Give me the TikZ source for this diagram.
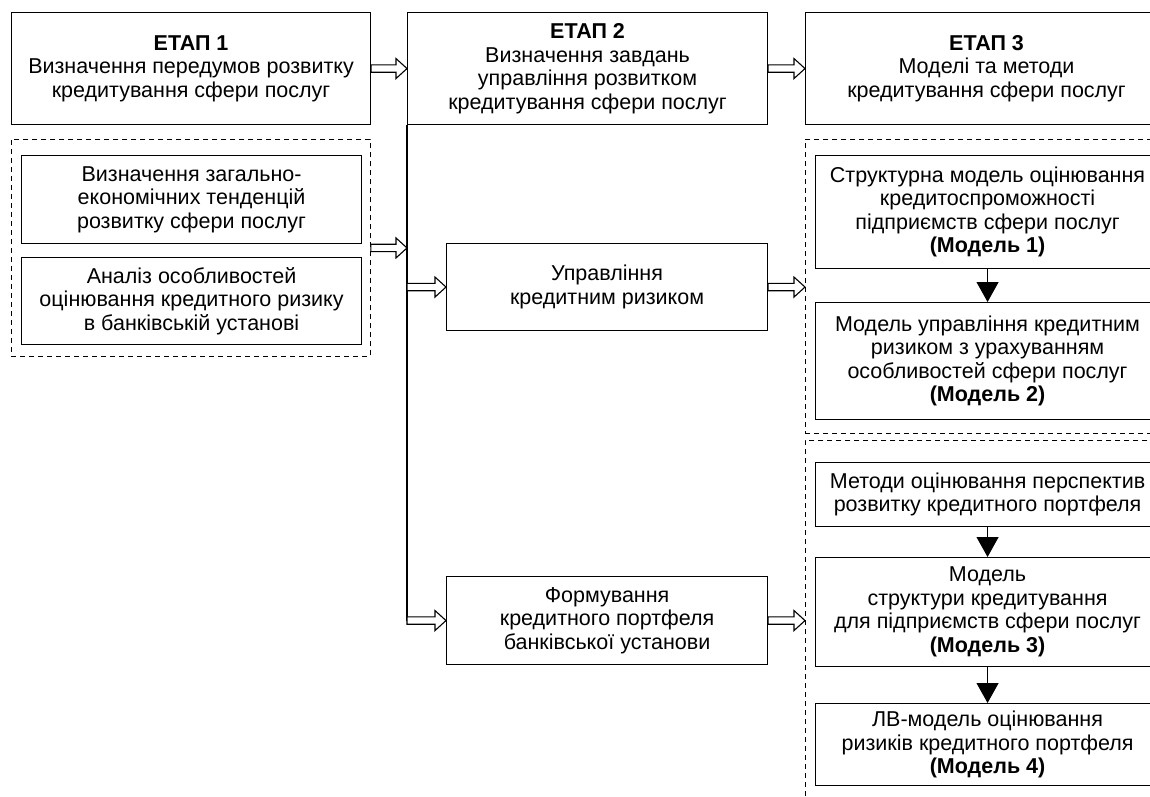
\documentclass[tikz,border=0pt]{standalone}
\usepackage{fontspec}
\setmainfont{Liberation Sans}
\usetikzlibrary{positioning,arrows.meta,calc}
\begin{document}
\begin{tikzpicture}[x=1pt,y=-1pt,line width=1.1pt,
		blok/.style={draw,anchor=north west,align=center,inner sep=2pt,font=\fontsize{21.5}{23.5}\selectfont},
		grupa/.style={draw,dash pattern=on 5pt off 4pt,line width=0.9pt,anchor=north west,inner sep=0pt},
		dvi/.style={draw,fill=white,line width=1.1pt,to path={
				($(\tikztostart)+(0,-3.7)$) -- ($(\tikztotarget)+(-11,-3.7)$) -- ($(\tikztotarget)+(-11,-10)$) -- (\tikztotarget)
				-- ($(\tikztotarget)+(-11,10)$) -- ($(\tikztotarget)+(-11,3.7)$) -- ($(\tikztostart)+(0,3.7)$) -- cycle}},
		strilka/.style={-{Triangle[length=20pt,width=22pt]},line width=1pt}]
		\useasboundingbox (0,0) rectangle (1150,796);
		\def\hb{112}
		\def\xl{407}
		\def\xm{446}
		\def\xr{815}
		\def\wr{344}
		% stages
		\node[blok,minimum width=359,minimum height=\hb] (etap1) at (11,12) {\textbf{ЕТАП 1}\\Визначення передумов розвитку\\кредитування сфери послуг};
		\node[blok,minimum width=360,minimum height=\hb] (etap2) at (\xl,12) {\textbf{ЕТАП 2}\\Визначення завдань\\управління розвитком\\кредитування сфери послуг};
		\node[blok,minimum width=362,minimum height=\hb] (etap3) at (805,12) {\textbf{ЕТАП 3}\\Моделі та методи\\кредитування сфери послуг};
		% left group
		\node[grupa,minimum width=359,minimum height=217] (grl) at (11,139) {};
		\node[blok,minimum width=340,minimum height=88] (tend) at (21,155) {Визначення загально-\\економічних тенденцій\\розвитку сфери послуг};
		\node[blok,minimum width=340,minimum height=87] (analiz) at (21,257) {Аналіз особливостей\\оцінювання кредитного ризику\\в банківській установі};
		% middle
		\node[blok,minimum width=321,minimum height=87] (upr) at (\xm,243) {Управління\\кредитним ризиком};
		\node[blok,minimum width=321,minimum height=88] (form) at (\xm,576) {Формування\\кредитного портфеля\\банківської установи};
		% right groups
		\node[grupa,minimum width=364,minimum height=294] (grr1) at (805,139) {};
		\node[grupa,minimum width=364,minimum height=370] (grr2) at (805,440) {};
		\node[blok,minimum width=\wr,minimum height=113] (m1) at (\xr,155) {Структурна модель оцінювання\\кредитоспроможності\\підприємств сфери послуг\\\textbf{(Модель 1)}};
		\node[blok,minimum width=\wr,minimum height=117] (m2) at (\xr,302) {Модель управління кредитним\\ризиком з урахуванням\\особливостей сфери послуг\\\textbf{(Модель 2)}};
		\node[blok,minimum width=\wr,minimum height=64] (metody) at (\xr,462) {Методи оцінювання перспектив\\розвитку кредитного портфеля};
		\node[blok,minimum width=\wr,minimum height=109] (m3) at (\xr,557) {Модель\\структури кредитування\\для підприємств сфери послуг\\\textbf{(Модель 3)}};
		\node[blok,minimum width=\wr,minimum height=82] (m4) at (\xr,703) {ЛВ-модель оцінювання\\ризиків кредитного портфеля\\\textbf{(Модель 4)}};
		% connectors
		\coordinate (v1) at (grl.east -| etap2.west);
		\coordinate (v2) at (upr.west -| etap2.west);
		\coordinate (v3) at (form.west -| etap2.west);
		\draw (etap2.south west) -- (v3);
		\draw[dvi] (etap1.east) to (etap2.west);
		\draw[dvi] (etap2.east) to (etap3.west);
		\draw[dvi] (grl.east) to (v1);
		\draw[dvi] (v2) to (upr.west);
		\draw[dvi] (v3) to (form.west);
		\draw[dvi] (upr.east) to (grr1.west |- upr.east);
		\draw[dvi] (form.east) to (grr2.west |- form.east);
		\draw[strilka] (m1) -- (m2);
		\draw[strilka] (metody) -- (m3);
		\draw[strilka] (m3) -- (m4);
	\end{tikzpicture}
\end{document}
